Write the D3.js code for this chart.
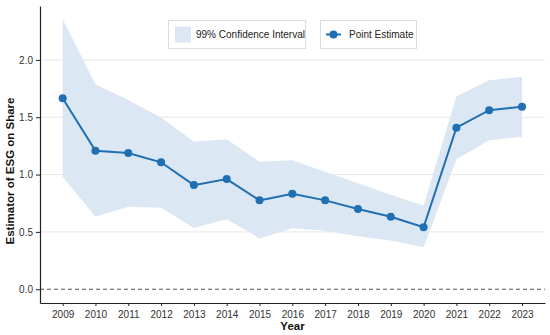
<!DOCTYPE html>
<html>
<head>
<meta charset="utf-8">
<script src="https://cdn.jsdelivr.net/npm/d3@7"></script>
<style>
  body { margin: 0; background: #fff; }
  svg { display: block; font-family: "Liberation Sans", Arial, sans-serif; }
</style>
</head>
<body>
<div id="chart"></div>
<script>
const width = 550
const height = 335
const margin = {top: 6, bottom: 32, left: 40, right: 5}

const years = [2009, 2010, 2011, 2012, 2013, 2014, 2015, 2016, 2017, 2018, 2019, 2020, 2021, 2022, 2023]
const estimate = [1.665, 1.208, 1.188, 1.107, 0.908, 0.961, 0.775, 0.832, 0.775, 0.699, 0.632, 0.541, 1.409, 1.561, 1.592]
const upper = [2.355, 1.788, 1.65, 1.498, 1.286, 1.307, 1.112, 1.125, 1.025, 0.925, 0.825, 0.73, 1.68, 1.823, 1.852]
const lower = [0.981, 0.632, 0.719, 0.71, 0.535, 0.611, 0.443, 0.532, 0.51, 0.462, 0.425, 0.366, 1.133, 1.30, 1.33]
const yTicks = [0.0, 0.5, 1.0, 1.5, 2.0]

const color = "#1f6fb2"

const svg = d3.select("#chart").append("svg").attr("width", width).attr("height", height)

const x = d3.scaleLinear().domain([2008.31, 2023.7]).range([margin.left, width - margin.right])
const y = d3.scaleLinear().domain([-0.12, 2.47]).range([height - margin.bottom, margin.top])

// grid
svg.append("g").selectAll("line").data(yTicks.filter(d => d > 0)).join("line")
    .attr("x1", margin.left).attr("x2", width - margin.right)
    .attr("y1", d => y(d)).attr("y2", d => y(d))
    .attr("stroke", "#e6e6e6").attr("stroke-width", 1)

// zero line
svg.append("line")
    .attr("x1", margin.left).attr("x2", width - margin.right)
    .attr("y1", y(0)).attr("y2", y(0))
    .attr("stroke", "#555").attr("stroke-width", 1).attr("stroke-dasharray", "4,3")

const rows = years.map((yr, i) => ({year: yr, est: estimate[i], lo: lower[i], hi: upper[i]}))

// confidence band
svg.append("path").datum(rows)
    .attr("fill", "#dbe7f3")
    .attr("d", d3.area().x(d => x(d.year)).y0(d => y(d.lo)).y1(d => y(d.hi)))

// point estimate line
svg.append("path").datum(rows)
    .attr("fill", "none").attr("stroke", color).attr("stroke-width", 2)
    .attr("d", d3.line().x(d => x(d.year)).y(d => y(d.est)))

svg.append("g").selectAll("circle").data(rows).join("circle")
    .attr("cx", d => x(d.year)).attr("cy", d => y(d.est)).attr("r", 4)
    .attr("fill", color)

// axes
const xAxisGroup = svg.append("g").attr("transform", `translate(0, ${height - margin.bottom})`)
    .call(d3.axisBottom(x).tickValues(years).tickFormat(d3.format("d")).tickSize(3).tickPadding(5).tickSizeOuter(0))
const yAxisGroup = svg.append("g").attr("transform", `translate(${margin.left}, 0)`)
    .call(d3.axisLeft(y).tickValues(yTicks).tickFormat(d3.format(".1f")).tickSize(4).tickSizeOuter(0))

;[xAxisGroup, yAxisGroup].forEach(g => {
    g.select(".domain").attr("stroke", "#222").attr("stroke-width", 1.2)
    g.selectAll(".tick line").attr("stroke", "#222")
    g.selectAll(".tick text").attr("fill", "#333").style("font-size", "10px")
})

svg.append("text")
    .attr("x", (margin.left + width - margin.right) / 2).attr("y", 330)
    .attr("text-anchor", "middle").style("font-size", "11.5px").style("font-weight", "bold")
    .attr("fill", "#111").text("Year")

svg.append("text")
    .attr("transform", `translate(14, 171) rotate(-90)`)
    .attr("text-anchor", "middle").style("font-size", "11.5px").style("font-weight", "bold")
    .attr("fill", "#111").text("Estimator of ESG on Share")

// legend
const legend = svg.append("g")
legend.append("rect").attr("x", 168.5).attr("y", 20.5).attr("width", 137).attr("height", 28)
    .attr("fill", "#fff").attr("stroke", "#ddd")
legend.append("rect").attr("x", 175).attr("y", 26.5).attr("width", 16).attr("height", 16)
    .attr("fill", "#dbe7f3")
legend.append("text").attr("x", 196).attr("y", 38).style("font-size", "10px").attr("fill", "#222")
    .text("99% Confidence Interval")

legend.append("rect").attr("x", 320.5).attr("y", 20.5).attr("width", 96).attr("height", 28)
    .attr("fill", "#fff").attr("stroke", "#ddd")
legend.append("line").attr("x1", 326).attr("x2", 341).attr("y1", 34.5).attr("y2", 34.5)
    .attr("stroke", color).attr("stroke-width", 2)
legend.append("circle").attr("cx", 333.5).attr("cy", 34.5).attr("r", 4).attr("fill", color)
legend.append("text").attr("x", 349).attr("y", 38).style("font-size", "10px").attr("fill", "#222")
    .text("Point Estimate")
</script>
</body>
</html>
